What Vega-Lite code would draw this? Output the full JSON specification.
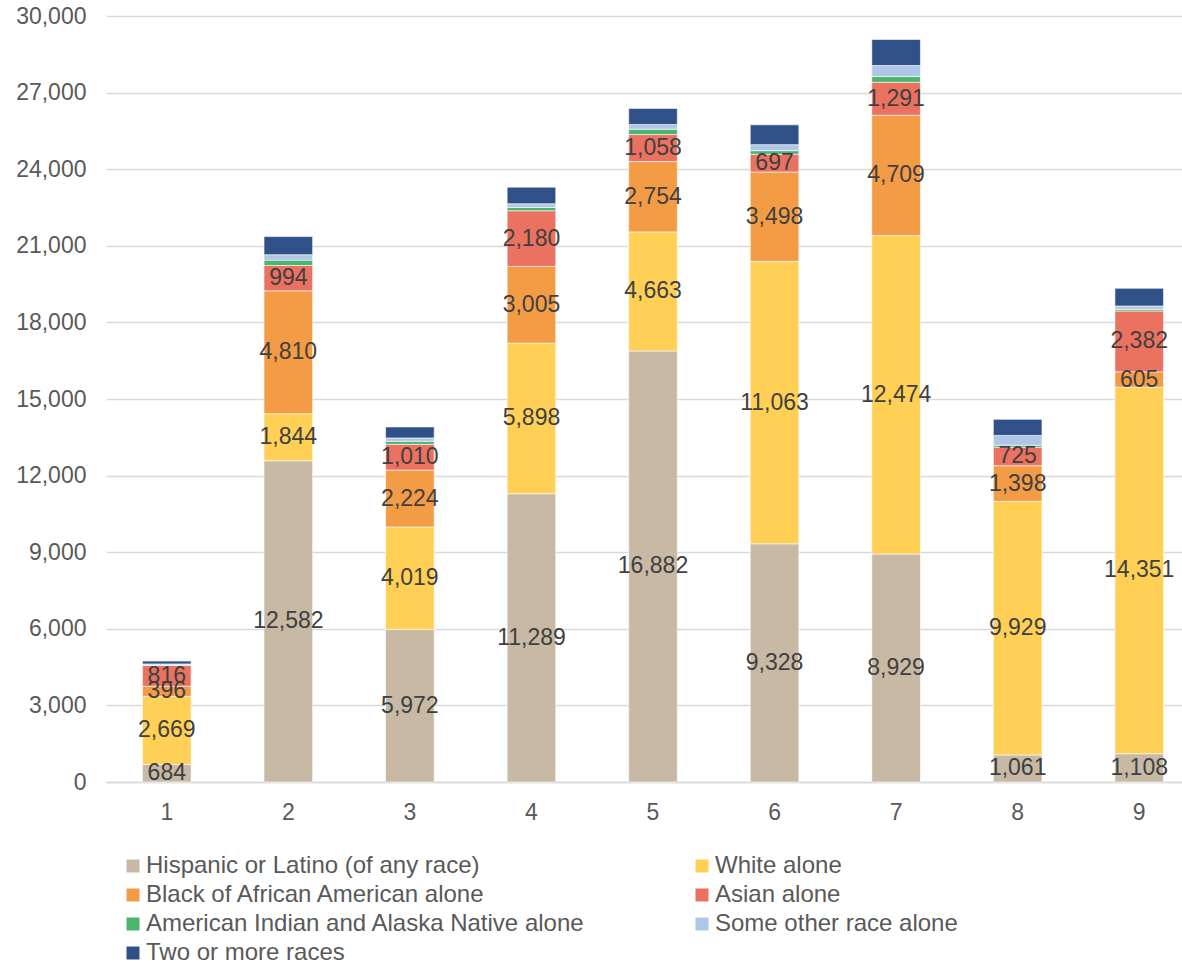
{
  "$schema": "https://vega.github.io/schema/vega-lite/v6.json",
  "width": 1076,
  "height": 766,
  "autosize": "none",
  "padding": {"left": 106, "top": 16, "right": 0, "bottom": 182},
  "background": "#ffffff",
  "config": {"view": {"stroke": null}, "font": "Liberation Sans"},
  "data": {"values": [
    {"c": "1", "race": "Hispanic or Latino (of any race)", "k": 1, "v": 684},
    {"c": "1", "race": "White alone", "k": 2, "v": 2669},
    {"c": "1", "race": "Black of African American alone", "k": 3, "v": 396},
    {"c": "1", "race": "Asian alone", "k": 4, "v": 816},
    {"c": "1", "race": "American Indian and Alaska Native alone", "k": 5, "v": 20},
    {"c": "1", "race": "Some other race alone", "k": 6, "v": 40},
    {"c": "1", "race": "Two or more races", "k": 7, "v": 110},
    {"c": "2", "race": "Hispanic or Latino (of any race)", "k": 1, "v": 12582},
    {"c": "2", "race": "White alone", "k": 2, "v": 1844},
    {"c": "2", "race": "Black of African American alone", "k": 3, "v": 4810},
    {"c": "2", "race": "Asian alone", "k": 4, "v": 994},
    {"c": "2", "race": "American Indian and Alaska Native alone", "k": 5, "v": 210},
    {"c": "2", "race": "Some other race alone", "k": 6, "v": 210},
    {"c": "2", "race": "Two or more races", "k": 7, "v": 710},
    {"c": "3", "race": "Hispanic or Latino (of any race)", "k": 1, "v": 5972},
    {"c": "3", "race": "White alone", "k": 2, "v": 4019},
    {"c": "3", "race": "Black of African American alone", "k": 3, "v": 2224},
    {"c": "3", "race": "Asian alone", "k": 4, "v": 1010},
    {"c": "3", "race": "American Indian and Alaska Native alone", "k": 5, "v": 120},
    {"c": "3", "race": "Some other race alone", "k": 6, "v": 130},
    {"c": "3", "race": "Two or more races", "k": 7, "v": 430},
    {"c": "4", "race": "Hispanic or Latino (of any race)", "k": 1, "v": 11289},
    {"c": "4", "race": "White alone", "k": 2, "v": 5898},
    {"c": "4", "race": "Black of African American alone", "k": 3, "v": 3005},
    {"c": "4", "race": "Asian alone", "k": 4, "v": 2180},
    {"c": "4", "race": "American Indian and Alaska Native alone", "k": 5, "v": 130},
    {"c": "4", "race": "Some other race alone", "k": 6, "v": 145},
    {"c": "4", "race": "Two or more races", "k": 7, "v": 650},
    {"c": "5", "race": "Hispanic or Latino (of any race)", "k": 1, "v": 16882},
    {"c": "5", "race": "White alone", "k": 2, "v": 4663},
    {"c": "5", "race": "Black of African American alone", "k": 3, "v": 2754},
    {"c": "5", "race": "Asian alone", "k": 4, "v": 1058},
    {"c": "5", "race": "American Indian and Alaska Native alone", "k": 5, "v": 210},
    {"c": "5", "race": "Some other race alone", "k": 6, "v": 185},
    {"c": "5", "race": "Two or more races", "k": 7, "v": 630},
    {"c": "6", "race": "Hispanic or Latino (of any race)", "k": 1, "v": 9328},
    {"c": "6", "race": "White alone", "k": 2, "v": 11063},
    {"c": "6", "race": "Black of African American alone", "k": 3, "v": 3498},
    {"c": "6", "race": "Asian alone", "k": 4, "v": 697},
    {"c": "6", "race": "American Indian and Alaska Native alone", "k": 5, "v": 140},
    {"c": "6", "race": "Some other race alone", "k": 6, "v": 236},
    {"c": "6", "race": "Two or more races", "k": 7, "v": 775},
    {"c": "7", "race": "Hispanic or Latino (of any race)", "k": 1, "v": 8929},
    {"c": "7", "race": "White alone", "k": 2, "v": 12474},
    {"c": "7", "race": "Black of African American alone", "k": 3, "v": 4709},
    {"c": "7", "race": "Asian alone", "k": 4, "v": 1291},
    {"c": "7", "race": "American Indian and Alaska Native alone", "k": 5, "v": 225},
    {"c": "7", "race": "Some other race alone", "k": 6, "v": 430},
    {"c": "7", "race": "Two or more races", "k": 7, "v": 1020},
    {"c": "8", "race": "Hispanic or Latino (of any race)", "k": 1, "v": 1061},
    {"c": "8", "race": "White alone", "k": 2, "v": 9929},
    {"c": "8", "race": "Black of African American alone", "k": 3, "v": 1398},
    {"c": "8", "race": "Asian alone", "k": 4, "v": 725},
    {"c": "8", "race": "American Indian and Alaska Native alone", "k": 5, "v": 80},
    {"c": "8", "race": "Some other race alone", "k": 6, "v": 380},
    {"c": "8", "race": "Two or more races", "k": 7, "v": 630},
    {"c": "9", "race": "Hispanic or Latino (of any race)", "k": 1, "v": 1108},
    {"c": "9", "race": "White alone", "k": 2, "v": 14351},
    {"c": "9", "race": "Black of African American alone", "k": 3, "v": 605},
    {"c": "9", "race": "Asian alone", "k": 4, "v": 2382},
    {"c": "9", "race": "American Indian and Alaska Native alone", "k": 5, "v": 65},
    {"c": "9", "race": "Some other race alone", "k": 6, "v": 130},
    {"c": "9", "race": "Two or more races", "k": 7, "v": 695}
  ]},
  "encoding": {
    "x": {
      "field": "c", "type": "nominal", "title": null,
      "scale": {"range": [0, 1094], "paddingInner": 0.6, "paddingOuter": 0.3},
      "axis": {"labelAngle": 0, "labelFontSize": 23, "labelColor": "#595959", "labelPadding": 19, "ticks": false, "domainColor": "#D9D9D9", "domainWidth": 1.3, "grid": false}
    },
    "y": {
      "field": "v", "type": "quantitative", "stack": "zero", "title": null,
      "scale": {"domain": [0, 30000], "nice": false, "zero": true},
      "axis": {"values": [0, 3000, 6000, 9000, 12000, 15000, 18000, 21000, 24000, 27000, 30000], "format": ",.0f", "labelFontSize": 23, "labelColor": "#595959", "labelPadding": 20, "ticks": false, "domain": false, "grid": true, "gridColor": "#D9D9D9", "gridWidth": 1.3}
    },
    "order": {"field": "k", "type": "quantitative", "sort": "ascending"}
  },
  "layer": [
    {
      "mark": {"type": "bar", "stroke": "#ffffff", "strokeWidth": 0.6},
      "encoding": {
        "color": {
          "field": "race", "type": "nominal", "title": null,
          "scale": {
            "domain": ["Hispanic or Latino (of any race)", "Black of African American alone", "American Indian and Alaska Native alone", "Two or more races", "White alone", "Asian alone", "Some other race alone"],
            "range": ["#C7B9A4", "#F39C45", "#4BB46E", "#2F5188", "#FFD055", "#EB7161", "#AFC6E6"]
          },
          "legend": {
            "orient": "none", "legendX": 15, "legendY": 838, "columns": 2, "padding": 0,
            "symbolType": "square", "symbolSize": 169, "symbolStrokeWidth": 0,
            "labelFontSize": 24, "labelColor": "#595959", "labelOffset": 1,
            "rowPadding": 5, "columnPadding": 105, "labelLimit": 600
          }
        }
      }
    },
    {
      "transform": [{"filter": {"field": "k", "lte": 4}}],
      "mark": {"type": "text", "fontSize": 23, "color": "#404040", "baseline": "middle"},
      "encoding": {
        "y": {"field": "v", "type": "quantitative", "stack": "zero", "bandPosition": 0.5},
        "text": {"field": "v", "type": "quantitative", "format": ",.0f"}
      }
    }
  ]
}
